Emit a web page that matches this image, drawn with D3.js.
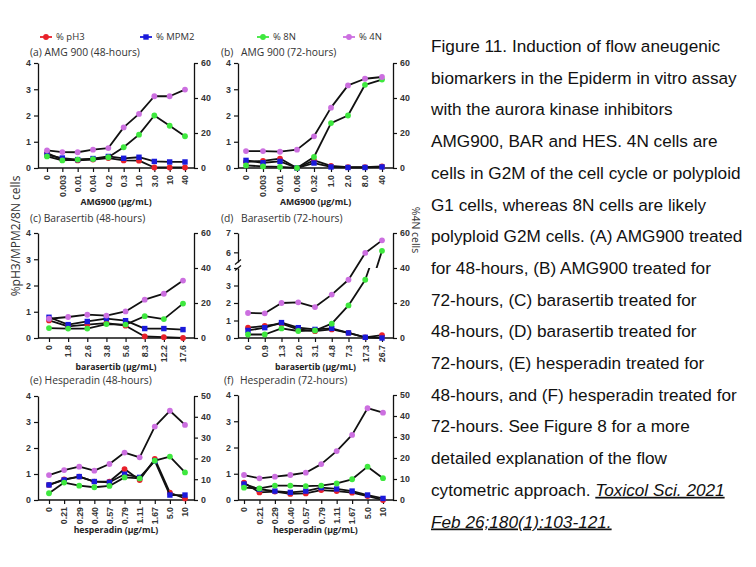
<!DOCTYPE html>
<html><head><meta charset="utf-8">
<script src="https://cdn.jsdelivr.net/npm/d3@7"></script>
<style>
body{margin:0;background:#fff;}
svg{display:block;}
.tick text{font-family:"Liberation Sans",Arial,sans-serif;font-weight:bold;font-size:8.8px;fill:#333;}
</style></head>
<body><div id="chart"></div>
<script>
// ---- data ----
const seriesNames = ["% pH3","% MPM2","% 8N","% 4N"];
const seriesColors = ["#e8202a","#1a1adb","#3ee83e","#cc6fe0"];
const seriesShapes = ["circle","square","circle","circle"];

const dosesA = ["0","0.003","0.01","0.04","0.2","0.3","1.0","3.0","10","40"];
const pH3A  = [0.57,0.32,0.29,0.32,0.38,0.29,0.28,0.02,0.02,0.02];
const mpm2A = [0.50,0.38,0.32,0.36,0.44,0.37,0.41,0.25,0.23,0.23];
const n8A   = [0.44,0.29,0.32,0.34,0.41,0.79,1.27,2.00,1.61,1.21];
const n4A   = [10.1,9.1,9.0,10.5,11.4,23.2,30.9,41.0,41.0,44.8];

const dosesB = ["0","0.003","0.01","0.06","0.32","1.0","2.0","8.0","40"];
const pH3B  = [0.23,0.27,0.36,0.00,0.29,0.08,0.03,0.03,0.06];
const mpm2B = [0.29,0.20,0.25,0.00,0.19,0.04,0.02,0.02,0.04];
const n8B   = [0.10,0.06,0.04,0.00,0.42,1.71,2.00,3.17,3.37];
const n4B   = [9.7,9.7,9.3,10.5,18.1,34.5,47.2,51.0,52.0];

const dosesC = ["0","1.8","2.6","3.8","5.6","8.3","12.2","17.6"];
const pH3C  = [0.67,0.44,0.51,0.57,0.47,0.06,0.03,0.00];
const mpm2C = [0.79,0.51,0.63,0.74,0.66,0.36,0.36,0.32];
const n8C   = [0.38,0.36,0.36,0.53,0.51,0.83,0.72,1.31];
const n4C   = [11.0,12.0,13.3,12.8,15.2,21.9,25.3,32.8];

const dosesD = ["0","0.9","1.3","2.0","3.1","4.8","7.3","17.3","26.7"];
const pH3D  = [0.59,0.69,0.82,0.49,0.39,0.49,0.29,0.04,0.16];
const mpm2D = [0.43,0.59,0.88,0.59,0.49,0.55,0.29,0.04,0.00];
const n8D   = [0.20,0.20,0.55,0.40,0.43,0.82,1.86,3.33,6.08];
const n4D   = [14.3,14.1,20.0,20.4,17.7,24.8,33.3,48.6,55.8];

const dosesE = ["0","0.21","0.29","0.40","0.57","0.79","1.11","1.67","5.0","10"];
const pH3E  = [0.58,0.79,0.90,0.71,0.71,1.19,0.77,1.58,0.28,0.06];
const mpm2E = [0.58,0.77,0.90,0.71,0.68,0.99,0.87,1.50,0.19,0.19];
const n8E   = [0.26,0.67,0.55,0.49,0.54,0.87,0.83,1.51,1.67,1.06];
const n4E   = [12.0,14.4,16.0,14.1,17.3,22.8,20.5,35.3,42.9,36.1];

const dosesF = ["0","0.21","0.29","0.40","0.57","0.79","1.11","1.67","5.0","10"];
const pH3F  = [0.66,0.29,0.32,0.23,0.25,0.38,0.34,0.28,0.15,0.00];
const mpm2F = [0.61,0.41,0.34,0.29,0.34,0.47,0.42,0.34,0.19,0.06];
const n8F   = [0.47,0.44,0.55,0.55,0.53,0.55,0.63,0.79,1.27,0.83];
const n4F   = [11.9,10.3,11.1,11.9,13.0,17.1,23.3,31.0,43.7,41.6];

const leftTicks = [0,1,2,3,4];
const rightTicks60 = [0,20,40,60];
const rightTicks50 = [0,10,20,30,40,50];

const captionLines = [
 "Figure 11. Induction of flow aneugenic",
 "biomarkers in the Epiderm in vitro assay",
 "with the aurora kinase inhibitors",
 "AMG900, BAR and HES. 4N cells are",
 "cells in G2M of the cell cycle or polyploid",
 "G1 cells, whereas 8N cells are likely",
 "polyploid G2M cells. (A) AMG900 treated",
 "for 48-hours, (B) AMG900 treated for",
 "72-hours, (C) barasertib treated for",
 "48-hours, (D) barasertib treated for",
 "72-hours, (E) hesperadin treated for",
 "48-hours, and (F) hesperadin treated for",
 "72-hours. See Figure 8 for a more",
 "detailed explanation of the flow",
 "cytometric approach. "
];
const citation1 = "Toxicol Sci. 2021 ";
const citation2 = "Feb 26;180(1):103-121.";

// ---- drawing ----
const W = 756, H = 567;
const svg = d3.select("#chart").append("svg").attr("width", W).attr("height", H);
const chartFont = "'Open Sans', 'DejaVu Sans', sans-serif";
const fmt = d3.format("d");

const panels = [
 {id:"a", x0:38, x1:194, yTop:63, yBot:168, p0:47, p1:185, doses:dosesA, s:[pH3A,mpm2A,n8A,n4A], rMax:60, rTicks:rightTicks60,
  lab:"(a)", title:"AMG 900 (48-hours)", tx:30, tgap:0, ty:56, xTitle:"AMG900 (\u00b5g/mL)", xty:205},
 {id:"b", x0:238, x1:393, yTop:63, yBot:168, p0:246, p1:382, doses:dosesB, s:[pH3B,mpm2B,n8B,n4B], rMax:60, rTicks:rightTicks60,
  lab:"(b)", title:"AMG 900 (72-hours)", tx:221, tgap:20, ty:56, xTitle:"AMG900 (\u00b5g/mL)", xty:205},
 {id:"c", x0:38, x1:194, yTop:233, yBot:338, p0:49, p1:183, doses:dosesC, s:[pH3C,mpm2C,n8C,n4C], rMax:60, rTicks:rightTicks60,
  lab:"(c)", title:"Barasertib (48-hours)", tx:30, tgap:0, ty:222, xTitle:"barasertib (\u00b5g/mL)", xty:370},
 {id:"d", x0:238, x1:393, yTop:233, yBot:338, p0:248, p1:382, doses:dosesD, s:[pH3D,mpm2D,n8D,n4D], rMax:60, rTicks:rightTicks60,
  lab:"(d)", title:"Barasertib (72-hours)", tx:221, tgap:20, ty:222, xTitle:"barasertib (\u00b5g/mL)", xty:370, broken:true},
 {id:"e", x0:38, x1:194, yTop:396, yBot:500, p0:49, p1:185, doses:dosesE, s:[pH3E,mpm2E,n8E,n4E], rMax:50, rTicks:rightTicks50,
  lab:"(e)", title:"Hesperadin (48-hours)", tx:30, tgap:0, ty:384, xTitle:"hesperadin (\u00b5g/mL)", xty:533},
 {id:"f", x0:238, x1:393, yTop:395, yBot:500, p0:244, p1:383, doses:dosesF, s:[pH3F,mpm2F,n8F,n4F], rMax:50, rTicks:rightTicks50,
  lab:"(f)", title:"Hesperadin (72-hours)", tx:224, tgap:16, ty:384, xTitle:"hesperadin (\u00b5g/mL)", xty:533}
];

function styleAxis(g){
  g.selectAll("path.domain").attr("stroke","#111").attr("stroke-width",1.3);
  g.selectAll(".tick line").attr("stroke","#111").attr("stroke-width",1.2);
}

function drawMarkers(sel, data, cx, cy, shape, color){
  if (shape === "square") {
    sel.selectAll("rect.mk").data(data).join("rect").attr("class","mk")
      .attr("x",(d,i)=>cx(d,i)-2.7).attr("y",d=>cy(d)-2.7).attr("width",5.4).attr("height",5.4)
      .attr("fill",color);
  } else {
    sel.selectAll("circle.mk").data(data).join("circle").attr("class","mk")
      .attr("cx",cx).attr("cy",cy).attr("r",2.9).attr("fill",color);
  }
}

panels.forEach(p => {
  const g = svg.append("g");
  const x = d3.scalePoint().domain(p.doses).range([p.p0, p.p1]);
  const yR = d3.scaleLinear().domain([0, p.rMax]).range([p.yBot, p.yTop]);
  let leftScales;
  if (p.broken) {
    const lower = d3.scaleLinear().domain([0,4]).range([p.yBot, 268]);
    const upper = d3.scaleLinear().domain([5.5,7]).range([262, p.yTop]);
    leftScales = [{s:lower, ticks:[0,1,2,3,4], clip:[268, p.yBot]}, {s:upper, ticks:[6,7], clip:[p.yTop-6, 262]}];
  } else {
    const yL = d3.scaleLinear().domain([0,4]).range([p.yBot, p.yTop]);
    leftScales = [{s:yL, ticks:leftTicks, clip:null}];
  }

  leftScales.forEach(ls => {
    const ax = g.append("g").attr("transform",`translate(${p.x0},0)`)
      .call(d3.axisLeft(ls.s).tickValues(ls.ticks).tickFormat(fmt).tickSize(4).tickSizeOuter(0).tickPadding(3));
    styleAxis(ax);
  });
  if (p.broken) {
    [262, 268].forEach(yy => {
      g.append("line").attr("x1",p.x0-3).attr("x2",p.x0+3).attr("y1",yy+2.5).attr("y2",yy-2.5)
        .attr("stroke","#111").attr("stroke-width",1.2);
    });
  }
  const axR = g.append("g").attr("transform",`translate(${p.x1},0)`)
    .call(d3.axisRight(yR).tickValues(p.rTicks).tickFormat(fmt).tickSize(4).tickSizeOuter(0).tickPadding(3));
  styleAxis(axR);
  const axX = g.append("g").attr("transform",`translate(0,${p.yBot})`)
    .call(d3.axisBottom(x).tickSize(4).tickSizeOuter(0));
  axX.select("path.domain").remove();
  styleAxis(axX);
  axX.selectAll(".tick text").attr("transform","rotate(-90)").attr("text-anchor","end")
    .attr("x",-7).attr("y",0).attr("dy","0.32em");
  g.append("line").attr("x1",p.x0).attr("x2",p.x1).attr("y1",p.yBot).attr("y2",p.yBot)
    .attr("stroke","#111").attr("stroke-width",1.3);

  const clips = leftScales.map((ls,i) => {
    if (!ls.clip) return null;
    const cid = `clip-${p.id}-${i}`;
    svg.append("clipPath").attr("id",cid).append("rect")
      .attr("x",p.x0).attr("width",p.x1-p.x0).attr("y",ls.clip[0]).attr("height",ls.clip[1]-ls.clip[0]+6);
    return cid;
  });

  p.s.forEach((vals, si) => {
    const scales = si === 3 ? [{s:yR}] : leftScales;
    scales.forEach((ls, li) => {
      const sg = g.append("g");
      if (si !== 3 && clips[li]) sg.attr("clip-path",`url(#${clips[li]})`);
      const line = d3.line().x((d,i)=>x(p.doses[i])).y(d=>ls.s(d));
      sg.append("path").datum(vals).attr("d",line).attr("fill","none")
        .attr("stroke","#111").attr("stroke-width",1.8).attr("stroke-linejoin","round");
      drawMarkers(sg, vals, (d,i)=>x(p.doses[i]), d=>ls.s(d), seriesShapes[si], seriesColors[si]);
    });
  });

  const t = g.append("text").attr("x",p.tx).attr("y",p.ty)
    .attr("font-family",chartFont).attr("font-size","10.3px").attr("fill","#333");
  t.append("tspan").text(p.lab);
  const t2 = t.append("tspan").text(" " + p.title);
  if (p.tgap) t2.attr("x", p.tx + p.tgap).text(p.title);

  g.append("text").attr("x",(p.x0+p.x1)/2).attr("y",p.xty).attr("text-anchor","middle")
    .attr("font-family",chartFont).attr("font-weight","bold").attr("font-size","8.7px").attr("fill","#222")
    .text(p.xTitle);
});

// legend
const legendX = [40, 140, 257, 343];
seriesNames.forEach((n,i) => {
  const lg = svg.append("g").attr("transform",`translate(${legendX[i]},37)`);
  lg.append("line").attr("x1",0).attr("x2",12).attr("y1",0).attr("y2",0)
    .attr("stroke",seriesColors[i]).attr("stroke-width",1.8);
  drawMarkers(lg, [0], () => 6, () => 0, seriesShapes[i], seriesColors[i]);
  lg.append("text").attr("x",16).attr("y",3.3).attr("font-family",chartFont)
    .attr("font-size","9.5px").attr("fill","#333").text(n);
});

// axis labels
svg.append("text").attr("transform","translate(20,236) rotate(-90)").attr("text-anchor","middle")
  .attr("font-family",chartFont).attr("font-size","12px").attr("fill","#333").text("%pH3/MPM2/8N cells");
svg.append("text").attr("transform","translate(412,230) rotate(90)").attr("text-anchor","middle")
  .attr("font-family",chartFont).attr("font-size","10.5px").attr("fill","#333").text("%4N cells");

// caption
const capFont = "'Liberation Sans', Arial, sans-serif";
captionLines.forEach((ln,i) => {
  const t = svg.append("text").attr("x",431).attr("y",52 + 31.7*i)
    .attr("font-family",capFont).attr("font-size","17.2px").attr("fill","#111").text(ln);
  if (i === captionLines.length-1) {
    t.append("tspan").attr("font-style","italic").attr("text-decoration","underline").text(citation1);
  }
});
svg.append("text").attr("x",431).attr("y",52 + 31.7*15)
  .attr("font-family",capFont).attr("font-size","17.2px").attr("fill","#111")
  .attr("font-style","italic").attr("text-decoration","underline").text(citation2);
</script>
</body></html>
